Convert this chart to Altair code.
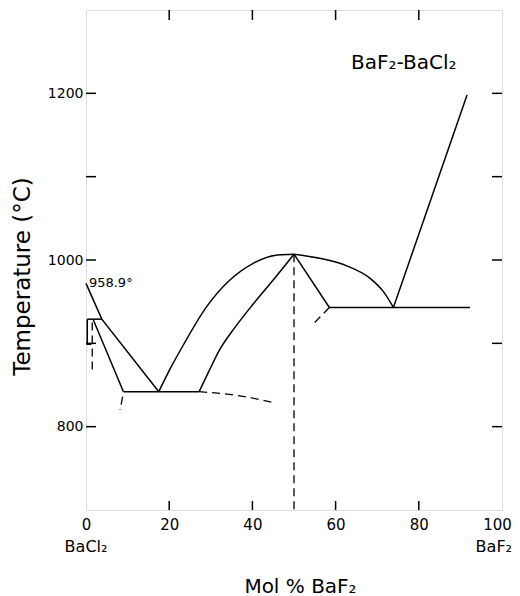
import altair as alt
import pandas as pd

# ---- data (x: mol % BaF2, y: temperature in C) ----
straight_segments = {
    "liquidus_BaCl2": [(0, 972), (3.8, 929), (17.5, 842)],
    "transition_929": [(0.3, 929), (3.8, 929)],
    "bracket": [(0.3, 929), (0.3, 899), (1.3, 899)],
    "solidus_left": [(1.7, 929), (9.0, 842)],
    "eutectic_842": [(9.0, 842), (27.2, 842)],
    "solidus_right": [(50.0, 1007), (58.5, 943)],
    "eutectic_943": [(58.5, 943), (92.3, 943)],
    "liquidus_BaF2": [(73.9, 943), (91.6, 1198)],
}
curved_segments = {
    "dome_left": [(17.5, 842), (20.5, 872), (23.4, 898), (29.0, 944), (34.6, 976),
                  (40.2, 996), (46.0, 1006), (50.0, 1007)],
    "dome_right": [(50.0, 1007), (56.2, 1002), (62.7, 993), (68.3, 978),
                   (71.5, 962), (73.9, 943)],
    "solidus_inner": [(27.2, 842), (29.5, 866), (32.2, 893), (35.5, 917),
                      (40.0, 946), (45.0, 976), (50.0, 1007)],
}
dashed_segments = {
    "d_left": [(1.5, 925), (1.5, 865)],
    "d_solidus": [(8.8, 836), (8.2, 820)],
    "d_eutectic": [(27.2, 842), (37.0, 837), (45.0, 829)],
    "d_compound": [(50.0, 1007), (50.0, 700)],
    "d_right": [(58.5, 943), (54.2, 921)],
}
y_ticks = [800, 900, 1000, 1100, 1200]
y_labels = [800, 1000, 1200]
x_ticks = [20, 40, 60, 80]
x_labels = [0, 20, 40, 60, 80, 100]
end_names = ["BaCl₂", "BaF₂"]
end_x = [0, 100]

W, H = 416, 500
FONT = "DejaVu Sans"


def to_df(segs):
    rows = []
    for name, pts in segs.items():
        for i, (x, y) in enumerate(pts):
            rows.append({"seg": name, "i": i, "x": x, "y": y})
    return pd.DataFrame(rows)


xs = alt.Scale(domain=[0, 100], nice=False, zero=False)
ys = alt.Scale(domain=[700, 1300], nice=False, zero=False)

xaxis = alt.Axis(values=x_labels, grid=False, ticks=False, tickSize=0, domain=False,
                 labelFont=FONT, labelFontSize=15, labelColor="black", labelPadding=7,
                 labelFlush=False, format="d",
                 labelOffset={"condition": {"test": "datum.value == 100", "value": -5}, "value": 0},
                 title="Mol  % BaF₂", titleFont=FONT,
                 titleFontSize=20, titleFontWeight="normal", titleColor="black",
                 titleX=214, titleY=82, titleBaseline="alphabetic", titleAlign="center")
yaxis = alt.Axis(values=y_labels, grid=False, ticks=False, tickSize=0, domain=False,
                 labelFont=FONT, labelFontSize=14, labelColor="black", labelPadding=3,
                 format="d", title="Temperature (°C)", titleFont=FONT, titleFontSize=23,
                 titleFontWeight="normal", titleColor="black", titleX=-57, titleY=266,
                 titleBaseline="alphabetic", titleAngle=-90, titleAlign="center")

straight = alt.Chart(to_df(straight_segments)).mark_line(color="black", strokeWidth=1.5).encode(
    x=alt.X("x:Q", scale=xs, axis=xaxis),
    y=alt.Y("y:Q", scale=ys, axis=yaxis),
    detail="seg:N",
    order="i:Q",
)
curved = alt.Chart(to_df(curved_segments)).mark_line(
    color="black", strokeWidth=1.5, interpolate="monotone").encode(
    x=alt.X("x:Q", scale=xs), y=alt.Y("y:Q", scale=ys), detail="seg:N", order="i:Q")
dashed = alt.Chart(to_df(dashed_segments)).mark_line(
    color="black", strokeWidth=1.3, strokeDash=[8, 5], interpolate="monotone").encode(
    x=alt.X("x:Q", scale=xs), y=alt.Y("y:Q", scale=ys), detail="seg:N", order="i:Q")

ydf = pd.DataFrame({"t": y_ticks})
xdf = pd.DataFrame({"t": x_ticks})
tick_l = alt.Chart(ydf).mark_rule(color="black", strokeWidth=1.5).encode(
    y=alt.Y("t:Q", scale=ys), x=alt.value(0), x2=alt.value(10))
tick_r = alt.Chart(ydf).mark_rule(color="black", strokeWidth=1.5).encode(
    y=alt.Y("t:Q", scale=ys), x=alt.value(W - 10), x2=alt.value(W))
tick_b = alt.Chart(xdf).mark_rule(color="black", strokeWidth=1.5).encode(
    x=alt.X("t:Q", scale=xs), y=alt.value(H - 9), y2=alt.value(H))
tick_t = alt.Chart(xdf).mark_rule(color="black", strokeWidth=1.5).encode(
    x=alt.X("t:Q", scale=xs), y=alt.value(0), y2=alt.value(10))

end_left = alt.Chart(pd.DataFrame({"x": end_x[:1], "name": end_names[:1]})).mark_text(
    font=FONT, fontSize=16, color="black", baseline="middle", align="center").encode(
    x=alt.X("x:Q", scale=xs), y=alt.value(H + 37), text="name:N")
end_right = alt.Chart(pd.DataFrame({"x": end_x[1:], "name": end_names[1:]})).mark_text(
    font=FONT, fontSize=16, color="black", baseline="middle", align="right", dx=10).encode(
    x=alt.X("x:Q", scale=xs), y=alt.value(H + 37), text="name:N")

mp = alt.Chart(pd.DataFrame({"a": [0]})).mark_text(
    font=FONT, fontSize=13, color="black", align="left", baseline="middle",
    text="958.9°").encode(x=alt.datum(0.7), y=alt.datum(973))
ttl = alt.Chart(pd.DataFrame({"a": [0]})).mark_text(
    font=FONT, fontSize=20, color="black", align="center", baseline="middle",
    text="BaF₂-BaCl₂").encode(x=alt.datum(76.4), y=alt.datum(1237))

chart = alt.layer(straight, curved, dashed, tick_l, tick_r, tick_b, tick_t,
                  end_left, end_right, mp, ttl).properties(
    width=W, height=H,
    padding={"left": 78, "top": 2, "right": 10, "bottom": 86},
    autosize=alt.AutoSizeParams(type="none"),
).configure_view(stroke="black", strokeWidth=2).configure(background="white")

chart.save("out.html", embed_options={"renderer": "svg", "actions": False})
